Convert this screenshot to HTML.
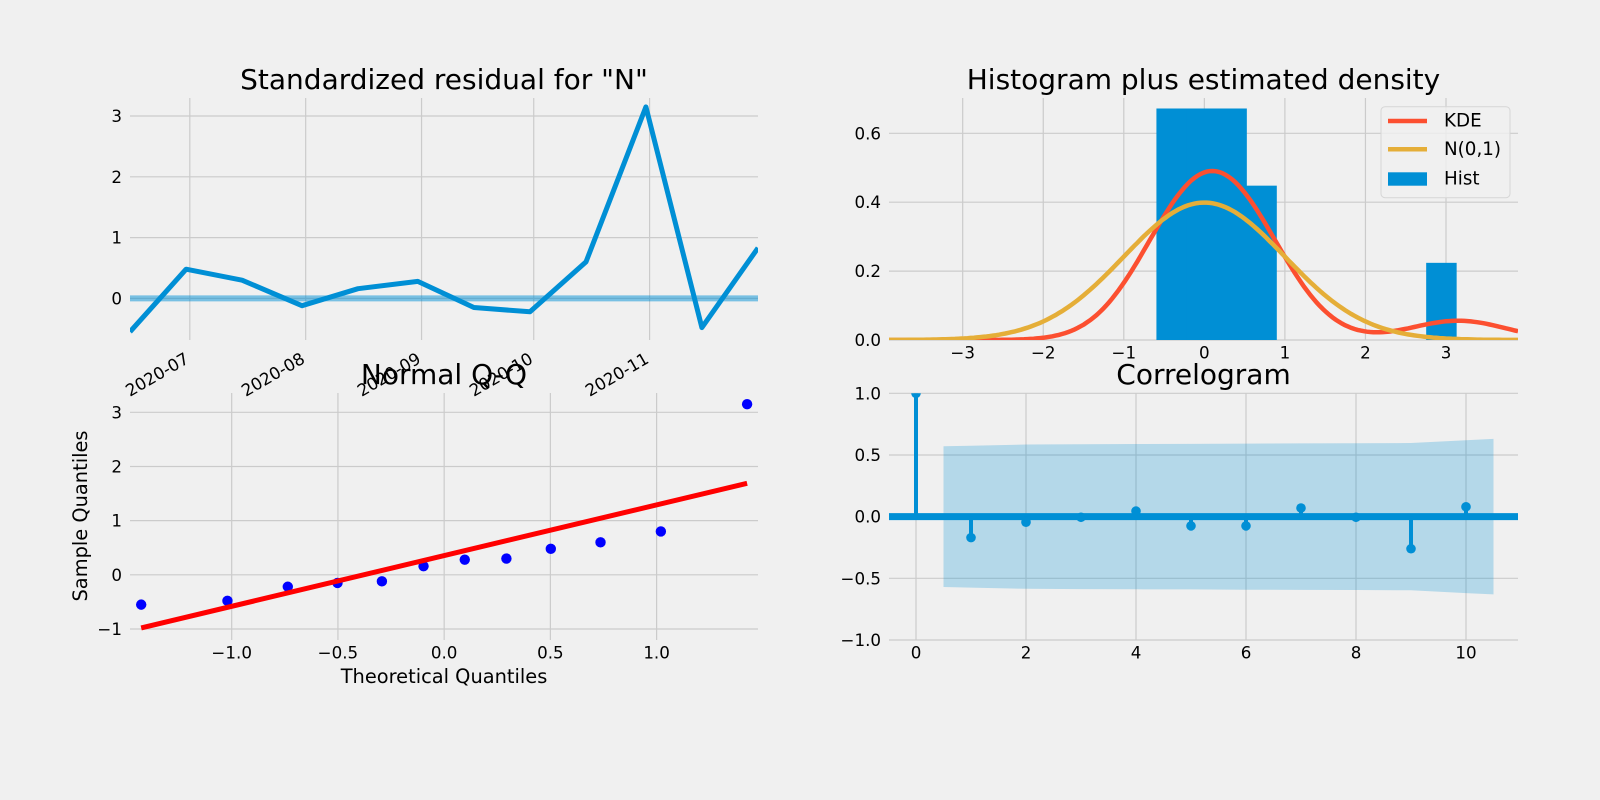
<!DOCTYPE html>
<html>
<head>
<meta charset="utf-8">
<style>
  html,body{margin:0;padding:0;background:#f0f0f0;}
  svg{display:block;font-family:"DejaVu Sans","Liberation Sans",sans-serif;}
</style>
</head>
<body>
<svg id="fig" width="1600" height="800" viewBox="0 0 1600 800" xmlns="http://www.w3.org/2000/svg">
  <rect x="0" y="0" width="1600" height="800" fill="#f0f0f0"/>
</svg>
<script>
// ---------- data ----------
const residDates = ["2020-06-15","2020-06-30","2020-07-15","2020-07-31","2020-08-15","2020-08-31","2020-09-15","2020-09-30","2020-10-15","2020-10-31","2020-11-15","2020-11-30"];
const residValues = [-0.55,0.48,0.30,-0.12,0.16,0.28,-0.15,-0.22,0.60,3.15,-0.48,0.83];
const residTickDates = ["2020-07-01","2020-08-01","2020-09-01","2020-10-01","2020-11-01"];
const residTickLabels = ["2020-07","2020-08","2020-09","2020-10","2020-11"];
const residYTicks = [0,1,2,3];

const histEdgesStart = -0.595;
const histBinWidth = 0.3721;
const histDensity = [0.672,0.672,0.672,0.448,0,0,0,0,0,0.224];
const histXTicks = [-3,-2,-1,0,1,2,3];
const histYTicks = [0.0,0.2,0.4,0.6];

const qqTheoretical = [-1.426,-1.020,-0.736,-0.502,-0.293,-0.097,0.097,0.293,0.502,0.736,1.020,1.426];
const qqSample = [-0.55,-0.48,-0.22,-0.15,-0.12,0.16,0.28,0.30,0.48,0.60,0.80,3.15];
const qqLineX = [-1.426,1.426];
const qqLineY = [-0.98,1.69];
const qqXTicks = [-1.0,-0.5,0.0,0.5,1.0];
const qqYTicks = [-1,0,1,2,3];

const acfLags = [0,1,2,3,4,5,6,7,8,9,10];
const acfValues = [1.0,-0.17,-0.045,-0.005,0.045,-0.075,-0.075,0.07,-0.005,-0.26,0.08];
const acfBandLags = [0.5,1,2,3,4,5,6,7,8,9,10,10.5];
const acfBand = [0.57,0.575,0.585,0.587,0.589,0.59,0.592,0.594,0.595,0.597,0.62,0.63];
const acfXTicks = [0,2,4,6,8,10];
const acfYTicks = [-1.0,-0.5,0.0,0.5,1.0];

// ---------- helpers ----------
const NS = "http://www.w3.org/2000/svg";
const svg = document.getElementById("fig");
function mk(tag, attrs, parent){
  const e = document.createElementNS(NS, tag);
  for (const k in attrs) e.setAttribute(k, attrs[k]);
  (parent||svg).appendChild(e);
  return e;
}
function lin(d0,d1,r0,r1){ return v => r0 + (v-d0)*(r1-r0)/(d1-d0); }
const GRID = "#cbcbcb", BLUE = "#008fd5", RED = "#fc4f30", YEL = "#e5ae38";
const TICKFS = 16.7;
let clipId = 0;
function makeClip(x,y,w,h){
  const id = "clip"+(clipId++);
  const cp = mk("clipPath",{id:id});
  mk("rect",{x:x,y:y,width:w,height:h},cp);
  return id;
}
function ylabelsAt(ticks, ys, left, fmt, nameBase){
  ticks.forEach(t=>{
    const tx = mk("text",{x:left-8,y:ys(t),"text-anchor":"end","dominant-baseline":"central","font-size":TICKFS,fill:"#000"});
    tx.textContent = fmt(t);
    
    
  });
}
function xlabelsAt(ticks, xs, bottom, fmt, nameBase){
  ticks.forEach(t=>{
    const tx = mk("text",{x:xs(t),y:bottom+18.5,"text-anchor":"middle","font-size":TICKFS,fill:"#000"});
    tx.textContent = fmt(t);
    
    
  });
}
function gridV(xs, ticks, top, bottom, g, nameBase){
  ticks.forEach(t=>{
    const l = mk("line",{x1:xs(t),x2:xs(t),y1:top,y2:bottom,stroke:GRID,"stroke-width":1.2},g);
    
    
  });
}
function gridH(ys, ticks, left, right, g, nameBase){
  ticks.forEach(t=>{
    const l = mk("line",{x1:left,x2:right,y1:ys(t),y2:ys(t),stroke:GRID,"stroke-width":1.2},g);
    
    
  });
}
function title(txt, cx, y, name){
  const t = mk("text",{x:cx,y:y,"text-anchor":"middle","font-size":28,fill:"#000"});
  t.textContent = txt;
  
  
}
function fmt1(v){ return (v<0?"\u2212":"")+Math.abs(v).toFixed(1); }
function fmt0(v){ return (v<0?"\u2212":"")+Math.abs(v).toFixed(0); }
function dayNum(s){ return Date.parse(s+"T00:00:00Z")/86400000; }

// ---------- panel 1: standardized residual ----------
(function(){
  const L=130,R=758,T=98,B=340;
  const xs = lin(dayNum("2020-06-15"), dayNum("2020-11-30"), L, R);
  const ys = lin(0,3,298.4,116);
  const g = mk("g",{});  
  gridV(v=>xs(dayNum(v)), residTickDates, T, B, g, 'residual-x');
  gridH(ys, residYTicks, L, R, g, 'residual-y');
  const cid = makeClip(L,T,R-L,B-T);
  const h = mk("line",{x1:L,x2:R,y1:ys(0),y2:ys(0),stroke:BLUE,"stroke-width":6,"stroke-opacity":0.5},g);
   
  const pts = residDates.map((d,i)=>xs(dayNum(d)).toFixed(1)+","+ys(residValues[i]).toFixed(1)).join(" ");
  const pl = mk("polyline",{points:pts,fill:"none",stroke:BLUE,"stroke-width":5,"stroke-linejoin":"round","clip-path":"url(#"+cid+")"},g);
   
  ylabelsAt(residYTicks, ys, L, fmt0, 'residual-y');
  residTickDates.forEach((d,i)=>{
    const x = xs(dayNum(d));
    const t = mk("text",{transform:"translate("+(x-6)+","+(B+11)+") rotate(-30)","text-anchor":"end","dominant-baseline":"hanging","font-size":TICKFS,fill:"#000"});
    t.textContent = residTickLabels[i];
     
  });
  title('Standardized residual for "N"', (L+R)/2, 89, 'residual-title');
})();

// ---------- panel 2: histogram ----------
(function(){
  const L=889,R=1518,T=98,B=340;
  const xs = lin(-3,3,962.7,1446);
  const ys = lin(0,0.6,340,133.3);
  const g = mk("g",{});  
  gridV(xs, histXTicks, T, B, g, 'hist-x');
  gridH(ys, histYTicks, L, R, g, 'hist-y');
  const cid = makeClip(L,T,R-L,B-T);
  histDensity.forEach((d,i)=>{
    if (d<=0) return;
    const x0 = xs(histEdgesStart+i*histBinWidth), x1 = xs(histEdgesStart+(i+1)*histBinWidth);
    const r = mk("rect",{x:x0,y:ys(d),width:x1-x0+0.5,height:ys(0)-ys(d),fill:BLUE},g);
     
  });
  const n = residValues.length;
  const mean = residValues.reduce((a,b)=>a+b,0)/n;
  const sd = Math.sqrt(residValues.reduce((a,b)=>a+(b-mean)*(b-mean),0)/(n-1));
  const bw = sd*Math.pow(n,-0.2);
  const x0 = (L-962.7)/((1446-962.7)/6)-3, x1 = (R-962.7)/((1446-962.7)/6)-3;
  const kp=[], np=[];
  for (let k=0;k<=200;k++){
    const x = x0+(x1-x0)*k/200;
    let s=0; residValues.forEach(v=>{ s += Math.exp(-0.5*((x-v)/bw)**2); });
    const kde = s/(n*bw*Math.sqrt(2*Math.PI));
    const nd = Math.exp(-0.5*x*x)/Math.sqrt(2*Math.PI);
    kp.push(xs(x).toFixed(1)+","+ys(kde).toFixed(1));
    np.push(xs(x).toFixed(1)+","+ys(nd).toFixed(1));
  }
  const kl = mk("polyline",{points:kp.join(" "),fill:"none",stroke:RED,"stroke-width":4.5,"clip-path":"url(#"+cid+")"},g);
   
  const nl = mk("polyline",{points:np.join(" "),fill:"none",stroke:YEL,"stroke-width":4.5,"clip-path":"url(#"+cid+")"},g);
   
  ylabelsAt(histYTicks, ys, L, fmt1, 'hist-y');
  xlabelsAt(histXTicks, xs, B, fmt0, 'hist-x');
  const lg = mk("g",{});  
  mk("rect",{x:1381,y:106.7,width:129,height:91,rx:4,fill:"#f0f0f0","fill-opacity":0.8,stroke:"#d6d6d6","stroke-width":1},lg);
  const e1 = mk("line",{x1:1388,x2:1427,y1:121,y2:121,stroke:RED,"stroke-width":4.5},lg);
   
  const e2 = mk("line",{x1:1388,x2:1427,y1:149.3,y2:149.3,stroke:YEL,"stroke-width":4.5},lg);
   
  const e3 = mk("rect",{x:1388,y:172.3,width:39,height:13.4,fill:BLUE},lg);
   
  [["KDE",121,'legend-kde-label'],["N(0,1)",149.3,'legend-normal-label'],["Hist",179,'legend-hist-label']].forEach(a=>{
    const t = mk("text",{x:1444,y:a[1],"dominant-baseline":"central","font-size":18.3,fill:"#000"},lg);
    t.textContent = a[0];
     
  });
  title('Histogram plus estimated density', (L+R)/2, 89, 'histogram-title');
})();

// ---------- panel 3: Normal Q-Q ----------
(function(){
  const L=130,R=758,T=393,B=640;
  const xs = lin(-1,1,231.7,656.6);
  const ys = lin(-1,3,629,412.3);
  const g = mk("g",{});  
  gridV(xs, qqXTicks, T, B, g, 'qq-x');
  gridH(ys, qqYTicks, L, R, g, 'qq-y');
  qqTheoretical.forEach((q,i)=>{
    const c = mk("circle",{cx:xs(q),cy:ys(qqSample[i]),r:5.2,fill:"#0000ff"},g);
     
  });
  const ln = mk("line",{x1:xs(qqLineX[0]),y1:ys(qqLineY[0]),x2:xs(qqLineX[1]),y2:ys(qqLineY[1]),stroke:"#ff0000","stroke-width":5},g);
   
  ylabelsAt(qqYTicks, ys, L, fmt0, 'qq-y');
  xlabelsAt(qqXTicks, xs, B, fmt1, 'qq-x');
  const xl = mk("text",{x:(L+R)/2,y:683,"text-anchor":"middle","font-size":19.4,fill:"#000"});
  xl.textContent = "Theoretical Quantiles";
   
  const yl = mk("text",{transform:"translate(87,516) rotate(-90)","text-anchor":"middle","font-size":19.4,fill:"#000"});
  yl.textContent = "Sample Quantiles";
   
  title('Normal Q-Q', (L+R)/2, 384, 'qq-title');
})();

// ---------- panel 4: correlogram ----------
(function(){
  const L=889,R=1518,T=393.3,B=640;
  const xs = lin(0,2,916,1026);
  const ys = lin(-1,1,640,393.3);
  const g = mk("g",{});  
  gridV(xs, acfXTicks, T, B, g, 'acf-x');
  gridH(ys, acfYTicks, L, R, g, 'acf-y');
  const cid = makeClip(L,T,R-L,B-T);
  const up = acfBandLags.map((l,i)=>xs(l).toFixed(1)+","+ys(acfBand[i]).toFixed(1));
  const dn = acfBandLags.map((l,i)=>xs(l).toFixed(1)+","+ys(-acfBand[i]).toFixed(1)).reverse();
  const band = mk("polygon",{points:up.concat(dn).join(" "),fill:BLUE,"fill-opacity":0.25},g);
   
  const z = mk("line",{x1:L,x2:R,y1:ys(0),y2:ys(0),stroke:BLUE,"stroke-width":7},g);
   
  const sg = mk("g",{"clip-path":"url(#"+cid+")"},g);
  acfLags.forEach((l,i)=>{
    const s = mk("line",{x1:xs(l),x2:xs(l),y1:ys(0),y2:ys(acfValues[i]),stroke:BLUE,"stroke-width":4},sg);
     
    const c = mk("circle",{cx:xs(l),cy:ys(acfValues[i]),r:4.8,fill:BLUE},sg);
     
  });
  ylabelsAt(acfYTicks, ys, L, fmt1, 'acf-y');
  xlabelsAt(acfXTicks, xs, B, fmt0, 'acf-x');
  title('Correlogram', (L+R)/2, 384, 'correlogram-title');
})();
</script>
</body>
</html>
